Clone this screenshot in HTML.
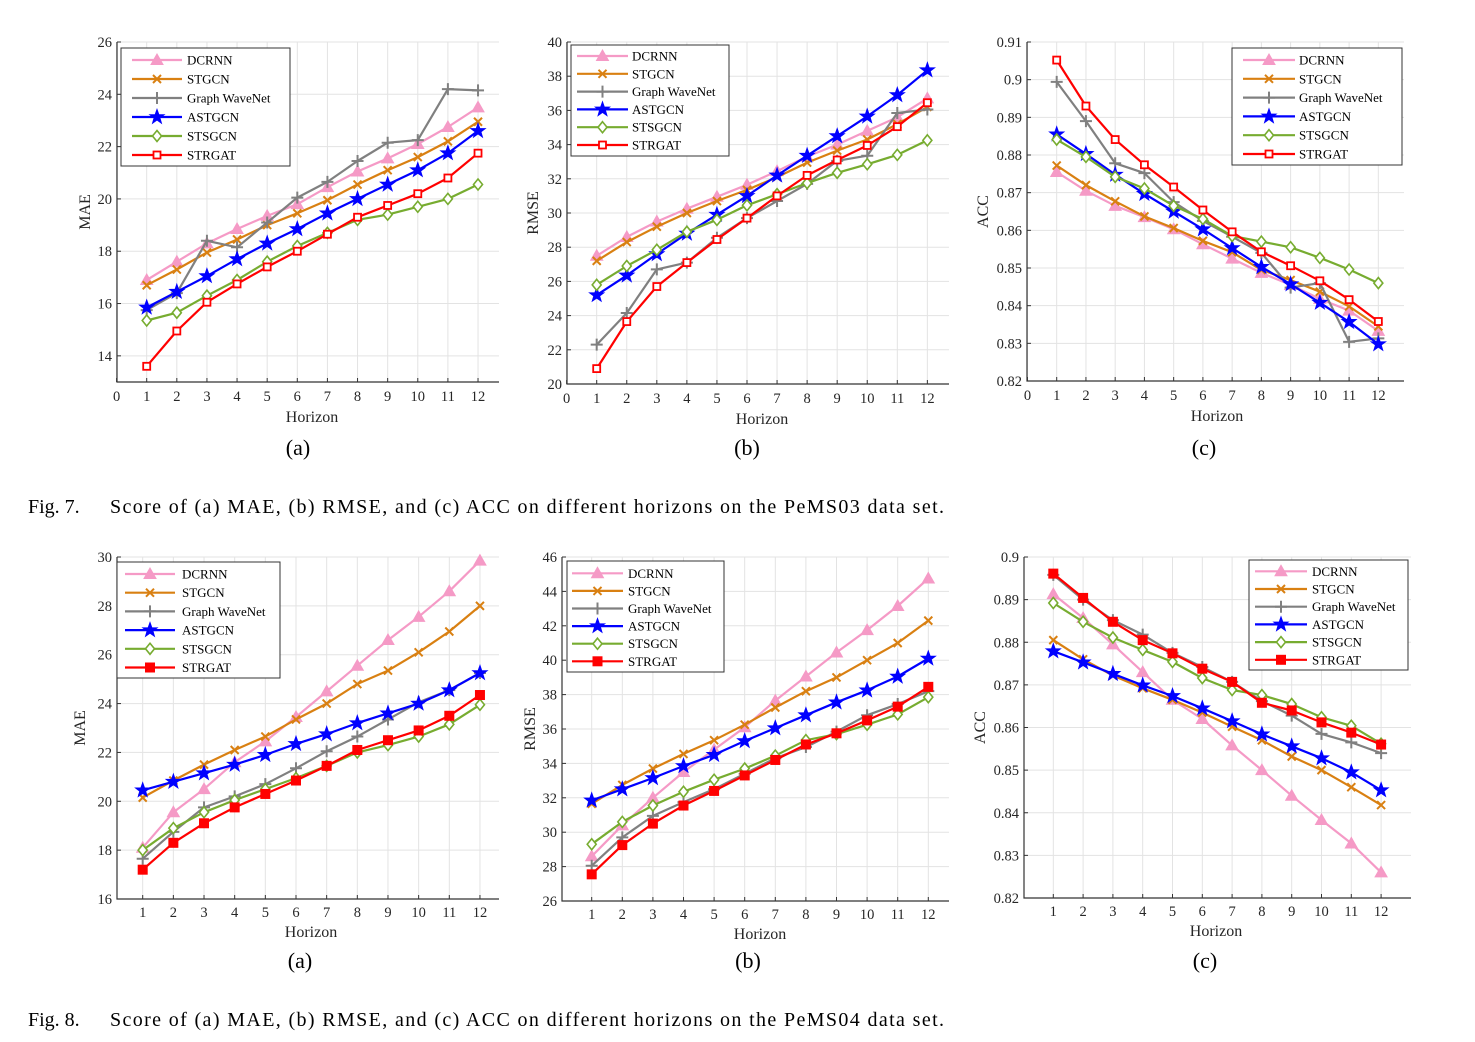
<!DOCTYPE html>
<html><head><meta charset="utf-8">
<style>
html,body{margin:0;padding:0;background:#fff;}
svg{display:block;font-family:"Liberation Serif",serif;}
</style></head>
<body>
<svg id="fig" width="1475" height="1042" viewBox="0 0 1475 1042" xmlns="http://www.w3.org/2000/svg">
<rect x="0" y="0" width="1475" height="1042" fill="#fff"/>
<text x="298" y="455" font-size="22" text-anchor="middle">(a)</text>
<text x="747" y="455" font-size="22" text-anchor="middle">(b)</text>
<text x="1204" y="455" font-size="22" text-anchor="middle">(c)</text>
<g>
<text x="28" y="513" font-size="20">Fig. 7.</text>
<text x="110" y="513" font-size="20" textLength="834" lengthAdjust="spacing">Score of (a) MAE, (b) RMSE, and (c) ACC on different horizons on the PeMS03 data set.</text>
</g>
<text x="300" y="968" font-size="22" text-anchor="middle">(a)</text>
<text x="748" y="968" font-size="22" text-anchor="middle">(b)</text>
<text x="1205" y="968" font-size="22" text-anchor="middle">(c)</text>
<g>
<text x="28" y="1026" font-size="20">Fig. 8.</text>
<text x="110" y="1026" font-size="20" textLength="834" lengthAdjust="spacing">Score of (a) MAE, (b) RMSE, and (c) ACC on different horizons on the PeMS04 data set.</text>
</g>
</svg>
<script>
const horizons = [1,2,3,4,5,6,7,8,9,10,11,12];
const modelNames = ["DCRNN","STGCN","Graph WaveNet","ASTGCN","STSGCN","STRGAT"];

// Fig 7 (a) MAE PeMS03
const f7MaeDCRNN  = [16.9,17.6,18.3,18.85,19.35,19.8,20.45,21.05,21.55,22.1,22.75,23.5];
const f7MaeSTGCN  = [16.7,17.3,17.95,18.45,19.0,19.45,19.95,20.55,21.1,21.6,22.2,22.95];
const f7MaeGWN    = [15.75,16.4,18.4,18.15,19.1,20.05,20.65,21.45,22.15,22.25,24.2,24.15];
const f7MaeASTGCN = [15.85,16.45,17.05,17.7,18.3,18.85,19.45,20.0,20.55,21.1,21.75,22.6];
const f7MaeSTSGCN = [15.35,15.65,16.3,16.9,17.6,18.2,18.7,19.2,19.4,19.7,20.0,20.55];
const f7MaeSTRGAT = [13.6,14.95,16.05,16.75,17.4,18.0,18.65,19.3,19.75,20.2,20.8,21.75];
const f7MaeTicks = [14,16,18,20,22,24,26];
// Fig 7 (b) RMSE
const f7RmseDCRNN  = [27.5,28.6,29.5,30.25,30.95,31.65,32.45,33.3,34.0,34.8,35.6,36.7];
const f7RmseSTGCN  = [27.2,28.3,29.2,30.0,30.7,31.35,32.1,32.95,33.65,34.3,35.2,36.2];
const f7RmseGWN    = [22.3,24.15,26.7,27.1,28.55,29.7,30.7,31.7,33.05,33.35,35.85,36.05];
const f7RmseASTGCN = [25.2,26.35,27.6,28.8,29.9,31.0,32.2,33.35,34.5,35.65,36.9,38.35];
const f7RmseSTSGCN = [25.8,26.9,27.85,28.9,29.6,30.45,31.1,31.75,32.35,32.85,33.4,34.25];
const f7RmseSTRGAT = [20.9,23.65,25.7,27.1,28.45,29.7,31.0,32.2,33.1,33.95,35.05,36.45];
const f7RmseTicks = [20,22,24,26,28,30,32,34,36,38,40];
// Fig 7 (c) ACC
const f7AccDCRNN  = [0.8755,0.8705,0.8665,0.8635,0.8603,0.8563,0.8525,0.8487,0.8455,0.8418,0.8387,0.8333];
const f7AccSTGCN  = [0.8772,0.8720,0.8677,0.8637,0.8606,0.8572,0.8542,0.8495,0.8468,0.8437,0.8398,0.8345];
const f7AccGWN    = [0.8994,0.8890,0.8778,0.8752,0.8675,0.8625,0.8583,0.8540,0.8448,0.8460,0.8304,0.8313];
const f7AccASTGCN = [0.8855,0.8803,0.8748,0.8697,0.8650,0.8603,0.8553,0.8503,0.8457,0.8408,0.8357,0.8298];
const f7AccSTSGCN = [0.8841,0.8795,0.8742,0.8711,0.8665,0.8630,0.8585,0.8570,0.8555,0.8527,0.8496,0.8460];
const f7AccSTRGAT = [0.9052,0.8930,0.8841,0.8774,0.8715,0.8654,0.8596,0.8543,0.8506,0.8466,0.8416,0.8358];
const f7AccTicks = [0.82,0.83,0.84,0.85,0.86,0.87,0.88,0.89,0.9,0.91];

// Fig 8 (a) MAE PeMS04
const f8MaeDCRNN  = [18.1,19.55,20.5,21.6,22.45,23.45,24.5,25.55,26.6,27.55,28.6,29.85];
const f8MaeSTGCN  = [20.15,20.85,21.5,22.1,22.65,23.35,24.0,24.8,25.35,26.1,26.95,28.0];
const f8MaeGWN    = [17.65,18.75,19.75,20.2,20.7,21.35,22.05,22.65,23.35,24.05,24.55,25.25];
const f8MaeASTGCN = [20.45,20.8,21.15,21.5,21.9,22.35,22.75,23.2,23.6,24.0,24.55,25.25];
const f8MaeSTSGCN = [18.0,18.9,19.55,20.05,20.5,20.95,21.45,22.0,22.3,22.65,23.15,23.95];
const f8MaeSTRGAT = [17.2,18.3,19.1,19.75,20.3,20.85,21.45,22.1,22.5,22.9,23.5,24.35];
const f8MaeTicks = [16,18,20,22,24,26,28,30];
// Fig 8 (b) RMSE
const f8RmseDCRNN  = [28.6,30.4,32.0,33.5,34.8,36.1,37.65,39.05,40.45,41.75,43.15,44.75];
const f8RmseSTGCN  = [31.65,32.75,33.7,34.55,35.35,36.25,37.25,38.2,39.0,40.0,41.0,42.3];
const f8RmseGWN    = [28.05,29.7,30.95,31.75,32.5,33.4,34.3,34.95,35.85,36.8,37.45,38.2];
const f8RmseASTGCN = [31.85,32.5,33.15,33.85,34.5,35.3,36.05,36.8,37.55,38.25,39.05,40.1];
const f8RmseSTSGCN = [29.3,30.6,31.55,32.35,33.05,33.7,34.45,35.35,35.7,36.25,36.85,37.85];
const f8RmseSTRGAT = [27.55,29.25,30.5,31.55,32.4,33.3,34.2,35.1,35.75,36.5,37.3,38.45];
const f8RmseTicks = [26,28,30,32,34,36,38,40,42,44,46];
// Fig 8 (c) ACC
const f8AccDCRNN  = [0.8913,0.8857,0.8795,0.8730,0.8665,0.8620,0.8558,0.8500,0.8440,0.8383,0.8328,0.8260];
const f8AccSTGCN  = [0.8805,0.8760,0.8722,0.8692,0.8665,0.8635,0.8602,0.8570,0.8532,0.8500,0.8460,0.8418];
const f8AccGWN    = [0.8958,0.8900,0.8852,0.8818,0.8775,0.8742,0.8707,0.8662,0.8628,0.8585,0.8565,0.8540];
const f8AccASTGCN = [0.8779,0.8753,0.8726,0.8699,0.8674,0.8645,0.8615,0.8584,0.8556,0.8528,0.8495,0.8453];
const f8AccSTSGCN = [0.8892,0.8848,0.8811,0.8782,0.8754,0.8716,0.8688,0.8676,0.8655,0.8624,0.8604,0.8562];
const f8AccSTRGAT = [0.8961,0.8904,0.8848,0.8805,0.8774,0.8738,0.8707,0.8658,0.8640,0.8612,0.8588,0.8560];
const f8AccTicks = [0.82,0.83,0.84,0.85,0.86,0.87,0.88,0.89,0.9];

const NS = "http://www.w3.org/2000/svg";
const svg = document.getElementById("fig");
const colors = ["#f59ac6","#d98012","#808080","#0000ff","#77ac30","#ff0000"];
const markers = ["tri","x","plus","star","diamond","square"];

function mk(tag, attrs, parent){
  const e = document.createElementNS(NS, tag);
  for (const k in attrs) e.setAttribute(k, attrs[k]);
  (parent||svg).appendChild(e);
  return e;
}

function drawMarker(g, type, cx, cy, color, filledSquare){
  let m;
  if (type==="tri"){
    m = mk("polygon",{points:`${cx},${cy-6} ${cx-6},${cy+4.5} ${cx+6},${cy+4.5}`,fill:color,stroke:color,"stroke-width":1},g);
  } else if (type==="x"){
    m = mk("path",{d:`M${cx-4},${cy-4}L${cx+4},${cy+4}M${cx-4},${cy+4}L${cx+4},${cy-4}`,stroke:color,"stroke-width":2,fill:"none"},g);
  } else if (type==="plus"){
    m = mk("path",{d:`M${cx-6},${cy}L${cx+6},${cy}M${cx},${cy-6}L${cx},${cy+6}`,stroke:color,"stroke-width":2,fill:"none"},g);
  } else if (type==="star"){
    let p=[];
    for(let i=0;i<10;i++){const r=i%2?3:7.5;const a=-Math.PI/2+i*Math.PI/5;p.push((cx+r*Math.cos(a)).toFixed(1)+","+(cy+r*Math.sin(a)).toFixed(1));}
    m = mk("polygon",{points:p.join(" "),fill:color,stroke:color,"stroke-width":1},g);
  } else if (type==="diamond"){
    m = mk("polygon",{points:`${cx},${cy-5.5} ${cx+4.5},${cy} ${cx},${cy+5.5} ${cx-4.5},${cy}`,fill:"#fff",stroke:color,"stroke-width":1.6},g);
  } else {
    if (filledSquare) m = mk("rect",{x:cx-4.5,y:cy-4.5,width:9,height:9,fill:color,stroke:color,"stroke-width":1},g);
    else m = mk("rect",{x:cx-3.5,y:cy-3.5,width:7,height:7,fill:"#fff",stroke:color,"stroke-width":1.8},g);
  }
  
  
}

function chart(c){
  const g = mk("g",{});
  
  
  const X = v => c.x1 + (v-1)*c.unit;
  const Y = v => c.bottom - (v - c.ymin)/(c.ymax - c.ymin)*(c.bottom - c.top);
  const xt = c.zeroTick ? [0].concat(horizons) : horizons;
  xt.forEach(v=>{
    const gl = mk("line",{x1:X(v),x2:X(v),y1:c.top,y2:c.bottom,stroke:"#e3e3e3","stroke-width":1},g);
    
    
    const tk = mk("line",{x1:X(v),x2:X(v),y1:c.bottom,y2:c.bottom-4,stroke:"#333","stroke-width":1},g);
    
    
    const t = mk("text",{x:X(v),y:c.xtickY,"font-size":14.5,"text-anchor":"middle",fill:"#262626"},g);
    t.textContent = v;
    
    
  });
  c.yticks.forEach(v=>{
    const gl = mk("line",{x1:c.left,x2:c.right,y1:Y(v),y2:Y(v),stroke:"#e3e3e3","stroke-width":1},g);
    
    
    const tk = mk("line",{x1:c.left,x2:c.left+4,y1:Y(v),y2:Y(v),stroke:"#333","stroke-width":1},g);
    
    
    const t = mk("text",{x:c.left-5,y:Y(v)+5,"font-size":14.5,"text-anchor":"end",fill:"#262626"},g);
    t.textContent = String(v);
    
    
  });
  const ax = mk("path",{d:`M${c.left},${c.top}L${c.left},${c.bottom}L${c.right},${c.bottom}`,stroke:"#333","stroke-width":1.2,fill:"none"},g);
  
  
  const xl = mk("text",{x:c.xlabX,y:c.xlabY,"font-size":16,"text-anchor":"middle",fill:"#262626"},g);
  xl.textContent = "Horizon";
  
  
  const yl = mk("text",{x:0,y:0,"font-size":16,"text-anchor":"middle",fill:"#262626",transform:`translate(${c.ylabX},${(c.top+c.bottom)/2}) rotate(-90)`},g);
  yl.textContent = c.ylabel;
  
  
  c.series.forEach((s,i)=>{
    const sg = mk("g",{},g);
    
    
    const pts = s.map((v,j)=>X(horizons[j]).toFixed(1)+","+Y(v).toFixed(1)).join(" ");
    const pl = mk("polyline",{points:pts,fill:"none",stroke:colors[i],"stroke-width":2.2,"stroke-linejoin":"round"},sg);
    
    
    s.forEach((v,j)=>drawMarker(sg,markers[i],X(horizons[j]),Y(v),colors[i],c.filledSquare));
  });
  const L = c.legend;
  const lg = mk("g",{},g);
  
  
  const lb = mk("rect",{x:L.x,y:L.y,width:L.w,height:L.h,fill:"#fff",stroke:"#333","stroke-width":1},lg);
  
  
  modelNames.forEach((n,i)=>{
    const ey = L.y0 + i*L.dy;
    const eg = mk("g",{},lg);
    
    
    mk("line",{x1:L.l1,x2:L.l2,y1:ey,y2:ey,stroke:colors[i],"stroke-width":2.2},eg);
    drawMarker(eg,markers[i],(L.l1+L.l2)/2,ey,colors[i],c.filledSquare);
    const t = mk("text",{x:L.tx,y:ey+4.5,"font-size":13,fill:"#000"},eg);
    t.textContent = n;
    
    
  });
}

chart({name:"fig7-mae-chart",left:117,top:42,right:499,bottom:382,x1:146.7,unit:30.12,ymin:13,ymax:26,yticks:f7MaeTicks,zeroTick:true,
  xtickY:401,xlabX:312,xlabY:422,ylabX:90,ylabel:"MAE",filledSquare:false,
  series:[f7MaeDCRNN,f7MaeSTGCN,f7MaeGWN,f7MaeASTGCN,f7MaeSTSGCN,f7MaeSTRGAT],
  legend:{x:121,y:48,w:169,h:118,y0:60,dy:19,l1:132,l2:182,tx:187}});
chart({name:"fig7-rmse-chart",left:567,top:42,right:949,bottom:384,x1:596.7,unit:30.06,ymin:20,ymax:40,yticks:f7RmseTicks,zeroTick:true,
  xtickY:403,xlabX:762,xlabY:424,ylabX:538,ylabel:"RMSE",filledSquare:false,
  series:[f7RmseDCRNN,f7RmseSTGCN,f7RmseGWN,f7RmseASTGCN,f7RmseSTSGCN,f7RmseSTRGAT],
  legend:{x:571,y:45,w:158,h:111,y0:56,dy:17.8,l1:577,l2:628,tx:632}});
chart({name:"fig7-acc-chart",left:1027,top:42,right:1404,bottom:381,x1:1056.7,unit:29.24,ymin:0.82,ymax:0.91,yticks:f7AccTicks,zeroTick:true,
  xtickY:400,xlabX:1217,xlabY:421,ylabX:988,ylabel:"ACC",filledSquare:false,
  series:[f7AccDCRNN,f7AccSTGCN,f7AccGWN,f7AccASTGCN,f7AccSTSGCN,f7AccSTRGAT],
  legend:{x:1232,y:48,w:170,h:117,y0:60,dy:18.8,l1:1243,l2:1295,tx:1299}});

chart({name:"fig8-mae-chart",left:117,top:557,right:499,bottom:899,x1:142.7,unit:30.66,ymin:16,ymax:30,yticks:f8MaeTicks,zeroTick:false,
  xtickY:917,xlabX:311,xlabY:937,ylabX:85,ylabel:"MAE",filledSquare:true,
  series:[f8MaeDCRNN,f8MaeSTGCN,f8MaeGWN,f8MaeASTGCN,f8MaeSTSGCN,f8MaeSTRGAT],
  legend:{x:117,y:562,w:163,h:116,y0:574,dy:18.7,l1:125,l2:175,tx:182}});
chart({name:"fig8-rmse-chart",left:562,top:557,right:949,bottom:901,x1:591.7,unit:30.6,ymin:26,ymax:46,yticks:f8RmseTicks,zeroTick:false,
  xtickY:919,xlabX:760,xlabY:939,ylabX:535,ylabel:"RMSE",filledSquare:true,
  series:[f8RmseDCRNN,f8RmseSTGCN,f8RmseGWN,f8RmseASTGCN,f8RmseSTSGCN,f8RmseSTRGAT],
  legend:{x:567,y:561,w:157,h:111,y0:573.3,dy:17.6,l1:572,l2:623,tx:628}});
chart({name:"fig8-acc-chart",left:1024,top:557,right:1411,bottom:898,x1:1053.3,unit:29.8,ymin:0.82,ymax:0.9,yticks:f8AccTicks,zeroTick:false,
  xtickY:916,xlabX:1216,xlabY:936,ylabX:985,ylabel:"ACC",filledSquare:true,
  series:[f8AccDCRNN,f8AccSTGCN,f8AccGWN,f8AccASTGCN,f8AccSTSGCN,f8AccSTRGAT],
  legend:{x:1249,y:560,w:159,h:110,y0:571.3,dy:17.7,l1:1255,l2:1307,tx:1312}});
</script>
</body></html>
